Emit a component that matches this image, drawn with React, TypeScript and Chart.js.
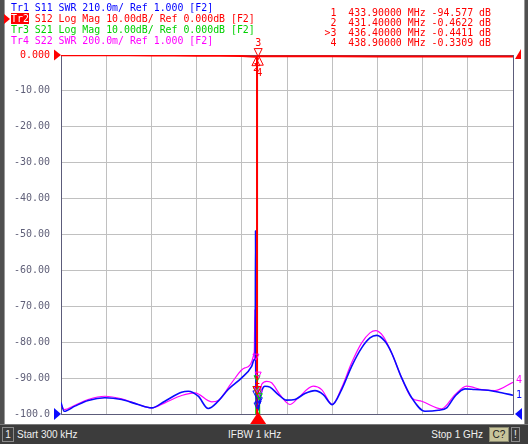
import React, { useEffect, useRef } from "react";
import { Chart, registerables } from "chart.js";

Chart.register(...registerables);

// ---- data (frequency in MHz) ----
const startMHz = 0.3;
const stopMHz = 1000;
const dbTicks = [0, -10, -20, -30, -40, -50, -60, -70, -80, -90, -100];

// Tr1 S11 SWR (210.0m/div, ref 1.000 at bottom)
const s11Freq = [0.3, 7.3, 31, 60.4, 97.3, 134.3, 171, 200.7, 230, 267, 281.6, 303.8, 325.9, 348, 370, 399.8, 421.9, 427.7, 429.8, 430.6, 431.2, 432.5, 434.5, 437, 441, 445, 451.3, 462.4, 480.8, 499.3, 517.7, 539.8, 561.9, 580.3, 600.2, 621, 643.1, 665.3, 683.6, 698.5, 716.8, 731.6, 753.8, 775.9, 805.3, 834.7, 853.3, 871.7, 893.8, 915.9, 945.4, 975, 1000];
const s11Swr = [1.067, 1.016, 1.046, 1.079, 1.095, 1.085, 1.055, 1.036, 1.075, 1.127, 1.133, 1.104, 1.032, 1.075, 1.143, 1.211, 1.279, 1.318, 1.32, 2.072, 1.25, 1.08, 1.02, 1.03, 1.09, 1.14, 1.162, 1.157, 1.114, 1.081, 1.085, 1.12, 1.137, 1.114, 1.055, 1.143, 1.279, 1.387, 1.445, 1.46, 1.425, 1.357, 1.211, 1.095, 1.016, 1.022, 1.036, 1.104, 1.147, 1.143, 1.139, 1.124, 1.11];

// Tr2 S12 Log Mag (10 dB/div, ref 0 dB at top)
const s12Freq = [0.3, 50, 100, 150, 200, 250, 300, 350, 400, 420, 431.4, 433.8, 433.85, 433.9, 433.95, 434.0, 436.4, 438.9, 450, 500, 600, 700, 800, 900, 1000];
const s12Db = [-0.05, -0.08, -0.1, -0.1, -0.12, -0.15, -0.18, -0.22, -0.3, -0.4, -0.4622, -0.5, -105, -94.577, -105, -0.5, -0.4411, -0.3309, -0.33, -0.35, -0.38, -0.4, -0.42, -0.44, -0.45];

// Tr3 S21 Log Mag (10 dB/div, ref 0 dB at top)
const s21Freq = [0.3, 430.5, 431.4, 433.9, 436.4, 438.9, 440.5, 1000];
const s21Db = [-110, -110, -94, -91, -95, -96, -110, -110];

// Tr4 S22 SWR (200.0m/div, ref 1.000 at bottom)
const s22Freq = [0.3, 7.3, 31, 60.4, 97.3, 134.3, 171, 200.7, 230, 267, 296.5, 333.4, 348, 377.7, 407, 427.7, 429.2, 430.4, 433, 437, 441, 444, 455, 466.2, 484.5, 506.6, 525, 558.2, 576.8, 600.2, 621, 643.1, 665.3, 683.6, 696.2, 713, 731.6, 753.8, 775.9, 798, 842.3, 871.7, 897.6, 930.8, 960.2, 1000];
const s22Swr = [1.053, 1.025, 1.049, 1.081, 1.099, 1.085, 1.053, 1.034, 1.062, 1.103, 1.118, 1.068, 1.075, 1.174, 1.257, 1.345, 1.581, 1.25, 1.11, 1.08, 1.12, 1.164, 1.182, 1.174, 1.108, 1.053, 1.09, 1.155, 1.136, 1.053, 1.146, 1.285, 1.396, 1.452, 1.465, 1.433, 1.34, 1.201, 1.09, 1.071, 1.029, 1.108, 1.155, 1.136, 1.131, 1.177];

// markers
const markerNums = ["1", "2", "3", "4"];
const markerFreqs = [433.9, 431.4, 436.4, 438.9];
const markerS12 = [-94.577, -0.4622, -0.4411, -0.3309];
const markerS11 = [1.03, 1.1, 1.04, 1.06];
const markerS22 = [1.12, 1.3, 1.2, 1.1];
const markerS21 = [-91, -94, -95, -96];
const activeMarker = 2;

const headerLines = [
  { tr: "Tr1", rest: " S11 SWR 210.0m/ Ref 1.000 [F2]", color: "#0000ff" },
  { tr: "Tr2", rest: " S12 Log Mag 10.00dB/ Ref 0.000dB [F2]", color: "#ff0000" },
  { tr: "Tr3", rest: " S21 Log Mag 10.00dB/ Ref 0.000dB [F2]", color: "#00d000" },
  { tr: "Tr4", rest: " S22 SWR 200.0m/ Ref 1.000 [F2]", color: "#ff00ff" },
];
const readoutLines = [
  "1  433.90000 MHz -94.577 dB",
  "2  431.40000 MHz -0.4622 dB",
  ">3  436.40000 MHz -0.4411 dB",
  "4  438.90000 MHz -0.3309 dB",
];

const BLUE = "#0a0aff";
const RED = "#ff0000";
const GREEN = "#00dd00";
const MAGENTA = "#ff00ff";
const MONO = '"DejaVu Sans Mono", monospace';

const pts = (xs: number[], ys: number[]) => xs.map((x, i) => ({ x, y: ys[i] }));

function tri(ctx: CanvasRenderingContext2D, p: [number, number][], color: string, fill: boolean) {
  ctx.beginPath();
  ctx.moveTo(p[0][0], p[0][1]);
  for (let i = 1; i < p.length; i++) ctx.lineTo(p[i][0], p[i][1]);
  ctx.closePath();
  if (fill) {
    ctx.fillStyle = color;
    ctx.fill();
  } else {
    ctx.strokeStyle = color;
    ctx.lineWidth = 1;
    ctx.stroke();
  }
}

const decor = {
  id: "vnaDecor",
  beforeDraw(chart: any) {
    const ctx = chart.ctx as CanvasRenderingContext2D;
    ctx.save();
    ctx.fillStyle = "#ffffff";
    ctx.fillRect(0, 0, 528, 444);
    ctx.fillStyle = "#505050";
    ctx.fillRect(0, 0, 4, 444);
    ctx.fillRect(525, 0, 3, 444);
    ctx.fillStyle = "#9a9a9a";
    ctx.fillRect(4, 0, 1, 444);
    ctx.fillRect(524, 0, 1, 444);
    ctx.restore();
  },
  beforeDatasetsDraw(chart: any) {
    const ctx = chart.ctx as CanvasRenderingContext2D;
    const a = chart.chartArea;
    ctx.save();
    ctx.strokeStyle = "#5c5c7a";
    ctx.lineWidth = 1;
    ctx.strokeRect(Math.round(a.left) + 0.5, Math.round(a.top) + 0.5, Math.round(a.right - a.left), Math.round(a.bottom - a.top));
    ctx.restore();
  },
  afterDatasetsDraw(chart: any) {
    const ctx = chart.ctx as CanvasRenderingContext2D;
    const a = chart.chartArea;
    const xs = chart.scales.x;
    const yDb = chart.scales.y;
    const y1 = chart.scales.ySwr1;
    const y4 = chart.scales.ySwr4;
    ctx.save();
    // reference-position arrows
    const t0 = yDb.getPixelForValue(0);
    const tb = a.bottom;
    tri(ctx, [[a.left, t0], [a.left - 7, t0 - 5.5], [a.left - 7, t0 + 5.5]], RED, true);
    tri(ctx, [[a.right + 2, t0 + 4], [a.right + 8, t0 - 6], [a.right + 8, t0 + 4]], RED, true);
    tri(ctx, [[a.left, tb], [a.left - 7, tb - 6], [a.left - 7, tb + 6]], BLUE, true);
    tri(ctx, [[a.right + 2, tb], [a.right + 9, tb - 6], [a.right + 9, tb + 6]], BLUE, true);

    // markers on the other traces
    const small = (x: number, y: number, c: string) => {
      if (y < a.top || y > a.bottom) return;
      tri(ctx, [[x, y], [x - 3, y - 6], [x + 3, y - 6]], c, false);
    };
    markerFreqs.forEach((f, i) => {
      const x = xs.getPixelForValue(f);
      small(x, y4.getPixelForValue(markerS22[i]), MAGENTA);
      small(x, y1.getPixelForValue(markerS11[i]), BLUE);
      small(x, yDb.getPixelForValue(markerS21[i]), GREEN);
    });

    // active trace markers (S12)
    ctx.font = `10px ${MONO}`;
    ctx.fillStyle = RED;
    ctx.textAlign = "center";
    ctx.textBaseline = "middle";
    markerFreqs.forEach((f, i) => {
      const x = xs.getPixelForValue(f);
      const y = yDb.getPixelForValue(markerS12[i]);
      if (i === 0 || i === activeMarker) {
        tri(ctx, [[x, y], [x - 4, y - 8], [x + 4, y - 8]], RED, false);
        ctx.fillStyle = RED;
        ctx.fillText(markerNums[i], x, y - 13);
      } else {
        tri(ctx, [[x, y + 1], [x - 4, y + 9], [x + 4, y + 9]], RED, false);
        ctx.fillStyle = RED;
        ctx.fillText(markerNums[i], x, y + (i === 1 ? 12 : 17));
      }
    });
    // active marker stimulus indicator
    const xa = xs.getPixelForValue(markerFreqs[activeMarker]);
    tri(ctx, [[xa, a.bottom - 2], [xa - 8, a.bottom + 10], [xa + 8, a.bottom + 10]], RED, true);

    // trace end labels
    ctx.textAlign = "left";
    ctx.fillStyle = BLUE;
    ctx.fillText("1", a.right + 3, y1.getPixelForValue(s11Swr[s11Swr.length - 1]));
    ctx.fillStyle = MAGENTA;
    ctx.fillText("4", a.right + 3, y4.getPixelForValue(s22Swr[s22Swr.length - 1]) - 2);
    ctx.restore();
  },
};

export default function App() {
  const ref = useRef<HTMLCanvasElement>(null);

  useEffect(() => {
    const canvas = ref.current;
    if (!canvas) return;
    const chart = new Chart(canvas, {
      type: "line",
      data: {
        datasets: [
          {
            label: "S12",
            data: pts(s12Freq, s12Db),
            borderColor: RED,
            borderWidth: 2,
            borderJoinStyle: "bevel",
            pointRadius: 0,
            yAxisID: "y",
            order: 0,
          },
          {
            label: "S11",
            data: pts(s11Freq, s11Swr),
            borderColor: BLUE,
            borderWidth: 1.6,
            pointRadius: 0,
            cubicInterpolationMode: "monotone",
            yAxisID: "ySwr1",
            order: 1,
          },
          {
            label: "S21",
            data: pts(s21Freq, s21Db),
            borderColor: GREEN,
            borderWidth: 1.5,
            pointRadius: 0,
            yAxisID: "y",
            order: 2,
          },
          {
            label: "S22",
            data: pts(s22Freq, s22Swr),
            borderColor: MAGENTA,
            borderWidth: 1.2,
            pointRadius: 0,
            cubicInterpolationMode: "monotone",
            yAxisID: "ySwr4",
            order: 3,
          },
        ] as any,
      },
      options: {
        animation: false,
        responsive: false,
        devicePixelRatio: 1,
        events: [],
        layout: { padding: { left: 0, top: 55, right: 15, bottom: 30 } },
        plugins: { legend: { display: false }, tooltip: { enabled: false } },
        scales: {
          x: {
            type: "linear",
            min: startMHz,
            max: stopMHz,
            afterBuildTicks: (scale: any) => {
              scale.ticks = Array.from({ length: 11 }, (_, i) => ({
                value: startMHz + (i * (stopMHz - startMHz)) / 10,
              }));
            },
            afterFit: (scale: any) => {
              scale.height = 0;
            },
            ticks: { display: false },
            grid: { color: "#c0c0c0", lineWidth: 1, drawTicks: false },
            border: { display: false },
          },
          y: {
            type: "linear",
            min: dbTicks[dbTicks.length - 1],
            max: dbTicks[0],
            afterBuildTicks: (scale: any) => {
              scale.ticks = dbTicks.map((v) => ({ value: v }));
            },
            afterFit: (scale: any) => {
              scale.width = 61;
            },
            ticks: {
              padding: 11,
              font: { family: "DejaVu Sans Mono", size: 10 },
              color: (c: any) => (c.tick && c.tick.value === 0 ? RED : "#5f5f78"),
              callback: (v: any) => {
                const n = Number(v);
                if (n === 0) return "0.000";
                if (n === -100) return "-100.0";
                return n.toFixed(2);
              },
            },
            grid: { color: "#c0c0c0", lineWidth: 1, drawTicks: false },
            border: { display: false },
          },
          ySwr1: { type: "linear", display: false, min: 1.0, max: 3.1 },
          ySwr4: { type: "linear", display: false, min: 1.0, max: 3.0 },
        } as any,
      },
      plugins: [decor],
    });
    return () => chart.destroy();
  }, []);

  return (
    <div style={{ position: "fixed", left: 0, top: 0, width: 528, height: 444, overflow: "hidden", background: "#fff" }}>
      <canvas ref={ref} width={528} height={444} style={{ position: "absolute", left: 0, top: 0, width: 528, height: 444 }} />
      {/* active trace pointer */}
      <div
        style={{
          position: "absolute",
          left: 4,
          top: 13.5,
          width: 0,
          height: 0,
          borderLeft: "6px solid #ff0000",
          borderTop: "5px solid transparent",
          borderBottom: "5px solid transparent",
        }}
      />
      <div style={{ position: "absolute", left: 11, top: 2, font: `9.9px ${MONO}`, lineHeight: "11px", whiteSpace: "pre" }}>
        {headerLines.map((l, i) => (
          <div key={i} style={{ color: l.color, height: 11 }}>
            {i === 1 ? <span style={{ background: "#ff0000", color: "#ffffff" }}>{l.tr}</span> : l.tr}
            {l.rest}
          </div>
        ))}
      </div>
      <div
        style={{
          position: "absolute",
          right: 37,
          top: 8,
          font: `9.9px ${MONO}`,
          lineHeight: "10px",
          whiteSpace: "pre",
          textAlign: "right",
          color: "#ff0000",
        }}
      >
        {readoutLines.map((l, i) => (
          <div key={i} style={{ height: 10 }}>{l}</div>
        ))}
      </div>
      {/* status bar */}
      <div
        style={{
          position: "absolute",
          left: 0,
          top: 424,
          width: 528,
          height: 20,
          background: "#3c3c3c",
          borderTop: "1px solid #7a7a7a",
          boxSizing: "border-box",
          font: '10px "Liberation Sans", Arial, sans-serif',
          color: "#f0f0f0",
        }}
      >
        <div style={{ position: "absolute", left: 2, top: 2, width: 12, height: 15, border: "1px solid #8a8a8a", boxSizing: "border-box", textAlign: "center", lineHeight: "13px" }}>1</div>
        <div style={{ position: "absolute", left: 17, top: 0, lineHeight: "19px", whiteSpace: "pre" }}>Start 300 kHz</div>
        <div style={{ position: "absolute", left: 228, top: 0, lineHeight: "19px", whiteSpace: "pre" }}>IFBW 1 kHz</div>
        <div style={{ position: "absolute", right: 45, top: 0, lineHeight: "19px", whiteSpace: "pre" }}>Stop 1 GHz</div>
        <div style={{ position: "absolute", left: 489, top: 2, width: 20, height: 15, background: "#c8c49a", color: "#202020", border: "1px solid #8a8a70", boxSizing: "border-box", textAlign: "center", lineHeight: "13px" }}>C?</div>
        <div style={{ position: "absolute", left: 511, top: 2, width: 9, height: 15, border: "1px solid #8a8a8a", boxSizing: "border-box", textAlign: "center", lineHeight: "13px" }}>!</div>
      </div>
    </div>
  );
}
